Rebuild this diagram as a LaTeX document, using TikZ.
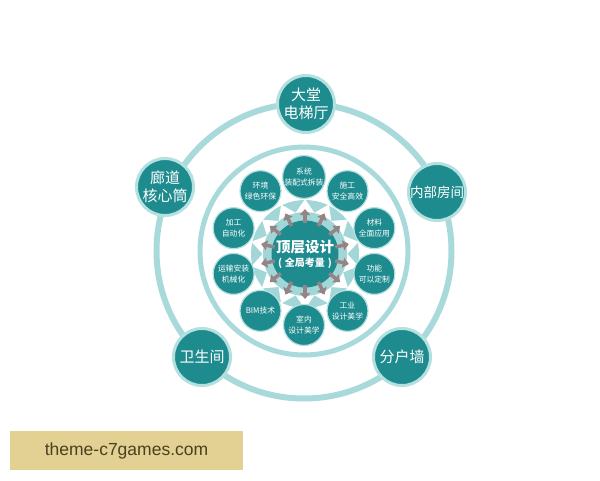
\documentclass[tikz,border=0pt]{standalone}
\usepackage{fontspec}
\setmainfont{Noto Sans CJK SC}
\newfontfamily\wmfont{Liberation Sans}
\usetikzlibrary{arrows.meta,calc,shapes.geometric}
\definecolor{tealdark}{HTML}{1E8B8F}
\definecolor{ringc}{HTML}{A9DADB}
\definecolor{ringb}{HTML}{B4E0E0}
\definecolor{centerlight}{HTML}{A3D6D7}
\definecolor{arrowc}{HTML}{958486}
\definecolor{wmbg}{HTML}{E2D193}
\definecolor{wmtext}{HTML}{4B4020}
\tikzset{
  bignode/.style={circle, fill=tealdark, draw=ringb, line width=3pt, minimum size=57pt, inner sep=0pt, text=white, align=center, font=\fontsize{15}{18}\selectfont},
  smallnode/.style={circle, fill=tealdark, draw=ringb, line width=1.2pt, minimum size=41pt, inner sep=0pt, text=white, align=center, font=\fontsize{7.8}{10.5}\selectfont},
  ringline/.style={draw=ringc},
  outarrow/.style={draw=arrowc, line width=3.5pt, -{Triangle[width=10pt,length=6pt]}}
}
\begin{document}
\begin{tikzpicture}[x=1pt,y=-1pt]
\useasboundingbox[fill=white] (0,0) rectangle (600,480);
\coordinate (c) at (304,251);
% rings
\draw[ringline, line width=6pt] (c) circle (147.5);
\draw[ringline, line width=5pt] (c) circle (104);
% centre disk position
\coordinate (cc) at (305,254);
% center light disk
\fill[centerlight] (cc) circle (54);
% white star
\node[star, star points=14, star point ratio=1.3, minimum size=110pt, inner sep=0pt, fill=white] (starbg) at (cc) {};
\fill[centerlight] (cc) circle (42);
% centre disk
\node[circle, fill=tealdark, minimum size=67pt, inner sep=0pt] (ctr) at (cc) {};
% arrows
\foreach \k in {0,...,13} {
  \pgfmathsetmacro{\a}{90+\k*360/14}
  \draw[outarrow] ($(ctr)+(\a:31)$) -- ($(ctr)+(\a:45)$);
}
\node[text=white, align=center, inner sep=0pt] (ctrtext) at (ctr) {{\fontsize{14.5}{17}\selectfont\bfseries 顶层设计}\\[2pt]{\fontsize{10}{12}\selectfont\bfseries (\hspace{3pt}全局考量\hspace{3pt})}};
% outer nodes
\node[bignode] (n1) at (306,104) {大堂\\电梯厅};
\node[bignode, font=\fontsize{13.5}{16}\selectfont] (n2) at (437,192) {内部房间};
\node[bignode] (n3) at (402,357) {分户墙};
\node[bignode] (n4) at (202,357) {卫生间};
\node[bignode] (n5) at (165,187) {廊道\\核心筒};
% small nodes
\foreach \ang/\txt [count=\i] in {
  90/{系统\\装配式拆装},
  54/{施工\\安全高效},
  18/{材料\\全面应用},
  -18/{功能\\可以定制},
  -54/{工业\\设计美学},
  -90/{室内\\设计美学},
  -126/{BIM技术},
  -162/{运输安装\\机械化},
  162/{加工\\自动化},
  126/{环境\\绿色环保}} {
  \node[smallnode] (s\i) at ($(c)+({-\ang}:74)$) {\txt};
}
% watermark
\node[fill=wmbg, minimum width=233pt, minimum height=39pt, inner sep=0pt, text=wmtext, font=\wmfont\fontsize{17.5}{20}\selectfont] (wm) at (126.5,450.5) {theme-c7games.com};
\end{tikzpicture}
\end{document}
